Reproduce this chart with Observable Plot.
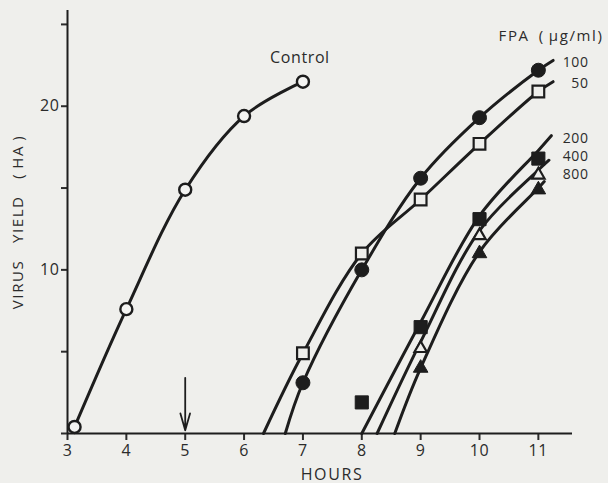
<!DOCTYPE html>
<html>
<head>
<meta charset="utf-8">
<script src="https://cdn.jsdelivr.net/npm/d3@7"></script>
<script src="https://cdn.jsdelivr.net/npm/@observablehq/plot@0.6"></script>
<style>
  html, body { margin: 0; padding: 0; background: #efefec; }
  #chart svg { display: block; }
  #chart svg text { letter-spacing: 0.6px; }
  #chart svg g.spaced text { letter-spacing: 1.6px; }
</style>
</head>
<body>
<div id="chart"></div>
<script>
// Control infection (open circles)
const controlHours = [3.12, 4, 5, 6, 7];
const controlYield = [0.4, 7.6, 14.9, 19.4, 21.5];

// FPA-treated cultures: dose, measured points and marker style
const fpaDoses = ["100", "50", "200", "400", "800"];
const fpaHours = [
  [7, 8, 9, 10, 11],
  [7, 8, 9, 10, 11],
  [8, 9, 10, 11],
  [9, 10, 11],
  [9, 10, 11]
];
const fpaYield = [
  [3.1, 10.0, 15.6, 19.3, 22.2],
  [4.9, 11.0, 14.3, 17.7, 20.9],
  [1.9, 6.5, 13.1, 16.8],
  [5.2, 12.1, 15.8],
  [4.0, 11.0, 14.9]
];
const fpaSymbol = ["circle", "square", "square", "triangle", "triangle"];
const fpaFilled = [true, false, true, false, true];

// Hand-fitted growth curves for each dose
const curveHours = [
  [6.70, 7, 8, 9, 10, 11, 11.25],
  [6.33, 7, 8, 9, 10, 11, 11.25],
  [8.00, 9, 10, 11, 11.22],
  [8.26, 9, 10, 11, 11.18],
  [8.56, 9, 10, 11, 11.10]
];
const curveYield = [
  [0, 3.1, 10.0, 15.6, 19.3, 22.2, 22.8],
  [0, 4.9, 11.0, 14.3, 17.7, 20.9, 21.5],
  [0, 6.8, 13.3, 17.3, 18.2],
  [0, 5.6, 12.4, 16.1, 16.7],
  [0, 4.0, 11.1, 15.0, 15.4]
];
// Height of each dose label on the yield scale
const doseLabelYield = [22.7, 21.4, 18.0, 16.9, 15.8];

// Axis ticks
const hourTicks = [3, 4, 5, 6, 7, 8, 9, 10, 11];
const yieldTicks = [0, 5, 10, 15, 20, 25];
const yieldTickLabels = ["", "", "10", "", "20", ""];

// Time of addition (arrow)
const additionHour = 5;
const arrowFrom = 3.4;
const arrowTo = 0.2;

const ink = "#1d1d1d";
const paper = "#efefec";
const textInk = "#2b2b2b";

const control = controlHours.map((h, i) => ({hour: h, yield: controlYield[i]}));
const curves = fpaDoses.flatMap((dose, i) =>
  curveHours[i].map((h, j) => ({dose, hour: h, yield: curveYield[i][j]})));
const points = fpaDoses.map((dose, i) =>
  fpaHours[i].map((h, j) => ({dose, hour: h, yield: fpaYield[i][j]})));

const symbolRadius = {circle: 7, square: 7.4, triangle: 5.4};

const dotMarks = points.map((pts, i) => Plot.dot(pts, {
  x: "hour", y: "yield",
  symbol: fpaSymbol[i],
  r: fpaFilled[i] ? symbolRadius[fpaSymbol[i]] : symbolRadius[fpaSymbol[i]] - 0.8,
  fill: fpaFilled[i] ? ink : paper,
  stroke: ink,
  strokeWidth: fpaFilled[i] ? 1 : 2.2
}));

const chart = Plot.plot({
  width: 608,
  height: 483,
  marginLeft: 67,
  marginRight: 36,
  marginTop: 10,
  marginBottom: 50,
  style: {fontFamily: "'Open Sans', sans-serif", fontSize: "15px", color: textInk, background: paper, overflow: "visible"},
  x: {domain: [3, 11.58]},
  y: {domain: [0, 25.85]},
  marks: [
    Plot.axisX({ticks: hourTicks, tickSize: 7, tickPadding: 4, strokeWidth: 2, fontSize: 16, label: null}),
    Plot.axisY({ticks: yieldTicks, tickFormat: d => yieldTickLabels[yieldTicks.indexOf(d)], tickSize: 6, tickPadding: 2, strokeWidth: 2, fontSize: 16, label: null}),
    Plot.ruleY([0], {stroke: ink, strokeWidth: 2}),
    Plot.ruleX([3], {stroke: ink, strokeWidth: 2}),
    Plot.text(["HOURS"], {frameAnchor: "bottom", dx: 12, dy: 46, fontSize: 16, fill: textInk, className: "spaced"}),
    Plot.text(["VIRUS\u2003YIELD\u2003(\u2009HA\u2009)"], {frameAnchor: "left", textAnchor: "middle", rotate: -90, dx: -49, fontSize: 15, fill: textInk, className: "spaced"}),
    Plot.arrow([{hour: additionHour, from: arrowFrom, to: arrowTo}], {
      x: "hour", y1: "from", y2: "to", stroke: ink, strokeWidth: 1.8, headLength: 16, headAngle: 32
    }),
    Plot.line(control, {x: "hour", y: "yield", curve: "catmull-rom", stroke: ink, strokeWidth: 3}),
    Plot.line(curves, {x: "hour", y: "yield", z: "dose", curve: "catmull-rom", stroke: ink, strokeWidth: 3}),
    Plot.dot(control, {x: "hour", y: "yield", r: 6, fill: "#f4f4f2", stroke: ink, strokeWidth: 2.4}),
    ...dotMarks,
    Plot.text([control[control.length - 1]], {x: "hour", y: "yield", text: () => "Control", dx: -3, dy: -24, fontSize: 16, fill: textInk}),
    Plot.text(["FPA\u2002(\u2009\u03bcg/ml)"], {frameAnchor: "top-right", dx: 31, dy: 20, textAnchor: "end", fontSize: 15, fill: textInk, className: "spaced"}),
    Plot.text(fpaDoses, {frameAnchor: "right", y: (d, i) => doseLabelYield[i], dx: 16, textAnchor: "end", fontSize: 14, fill: textInk})
  ]
});

document.getElementById("chart").append(chart);
</script>
</body>
</html>
